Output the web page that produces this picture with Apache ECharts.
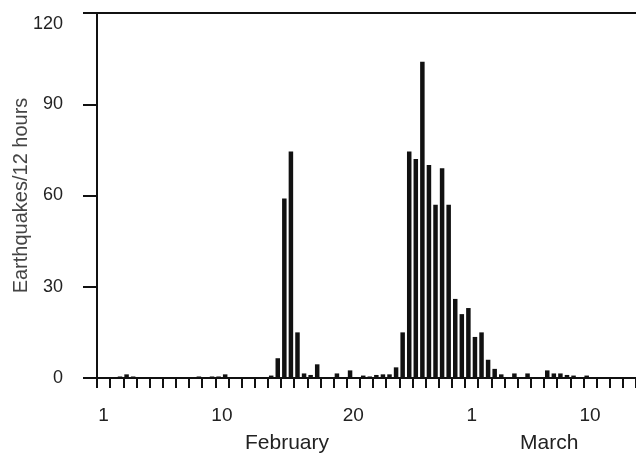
<!DOCTYPE html>
<html>
<head>
<meta charset="utf-8">
<script src="https://cdn.jsdelivr.net/npm/echarts@6/dist/echarts.min.js"></script>
<style>
  html, body { margin: 0; padding: 0; background: #fff; }
  #chart { width: 636px; height: 455px; }
</style>
</head>
<body>
<div id="chart"></div>
<script>
// earthquakes per 12 hours, one value per half day starting 1 February
var counts = [
  0, 0, 0, 0.5, 1.2, 0.5, 0, 0, 0, 0,
  0, 0.3, 0.3, 0, 0, 0.5, 0.3, 0.5, 0.5, 1.2,
  0.3, 0, 0, 0, 0, 0.3, 0.8, 6.5, 59, 74.5,
  15, 1.5, 1, 4.5, 0, 0, 1.5, 0, 2.5, 0,
  0.8, 0.5, 1, 1.2, 1.2, 3.5, 15, 74.5, 72, 104,
  70, 57, 69, 57, 26, 21, 23, 13.5, 15, 6,
  3, 1.2, 0, 1.5, 0, 1.5, 0, 0, 2.5, 1.5,
  1.5, 1, 0.8, 0, 0.8, 0, 0, 0, 0, 0,
  0, 0
];

// day labels: February 1-28, then March 1-13
var days = [];
for (var d = 1; d <= 28; d++) days.push(String(d));
for (var m = 1; m <= 13; m++) days.push(String(m));
var shownDays = [0, 9, 19, 28, 37];   // Feb 1, 10, 20, Mar 1, 10

var yTicks = { min: 0, max: 120, step: 30 };
var monthNames = ['February', 'March'];

var bins = counts.map(function (v, i) { return i; });
var font = 'Liberation Sans';

var chart = echarts.init(document.getElementById('chart'));

var option = {
  animation: false,
  backgroundColor: '#fff',
  grid: { left: 97, top: 13, bottom: 77, right: -5.25, containLabel: false },
  xAxis: [
    {
      type: 'category',
      data: bins,
      position: 'bottom',
      axisLine: { show: true, lineStyle: { color: '#111', width: 2 } },
      axisTick: { show: false },
      axisLabel: { show: false }
    },
    {
      type: 'category',
      data: days,
      position: 'bottom',
      axisLine: { show: false },
      axisTick: { show: true, length: 10, interval: 0, lineStyle: { color: '#111', width: 2 } },
      axisLabel: {
        show: true,
        interval: function (index) { return shownDays.indexOf(index) >= 0; },
        margin: 28,
        color: '#222',
        fontSize: 19,
        fontFamily: font
      }
    },
    {
      type: 'category',
      data: days,
      position: 'top',
      axisLine: { show: true, lineStyle: { color: '#111', width: 2 } },
      axisTick: { show: false },
      axisLabel: { show: false }
    }
  ],
  yAxis: {
    type: 'value',
    min: yTicks.min,
    max: yTicks.max,
    interval: yTicks.step,
    name: 'Earthquakes/12 hours',
    nameLocation: 'middle',
    nameGap: 66,
    nameMoveOverlap: false,
    nameTextStyle: { color: '#444', fontSize: 20, fontFamily: font },
    axisLine: { show: true, lineStyle: { color: '#111', width: 2 } },
    axisTick: { show: true, length: 14, lineStyle: { color: '#111', width: 2 } },
    axisLabel: {
      margin: 34, color: '#222', fontSize: 18, fontFamily: font,
      formatter: function (v) { return v === yTicks.max ? '{top|' + v + '}' : String(v); },
      rich: { top: { padding: [22, 0, 0, 0], color: '#222', fontSize: 18, fontFamily: font } }
    },
    splitLine: { show: false }
  },
  graphic: [
    { type: 'text', left: 245, top: 433, style: { text: monthNames[0], fontSize: 21, fontFamily: font, fill: '#222' } },
    { type: 'text', left: 520, top: 433, style: { text: monthNames[1], fontSize: 21, fontFamily: font, fill: '#222' } }
  ],
  series: [{
    type: 'bar',
    xAxisIndex: 0,
    data: counts,
    barWidth: 4.5,
    itemStyle: { color: '#111' }
  }]
};

chart.setOption(option);
</script>
</body>
</html>
